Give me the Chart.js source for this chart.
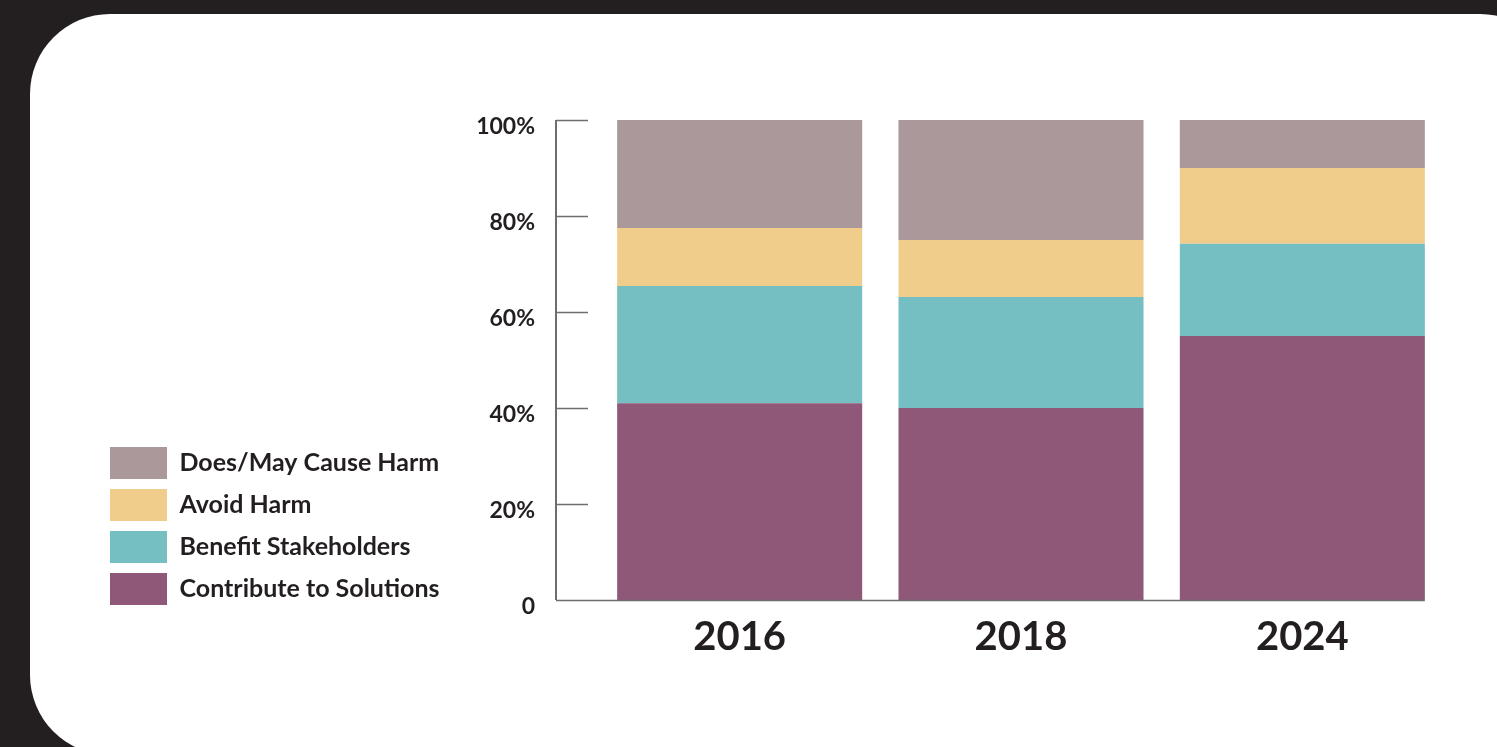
<!DOCTYPE html>
<html>
<head>
<meta charset="utf-8">
<title>Impact mix by year</title>
<script src="https://cdn.jsdelivr.net/npm/chart.js@4.4.1/dist/chart.umd.min.js"></script>
<style>
  html, body { margin: 0; padding: 0; background: #231f20; overflow: hidden; }
  #card {
    position: absolute; left: 30px; top: 14px;
    width: 1530px; height: 741px;
    background: #ffffff; border-radius: 80px;
  }
  #wrap { position: absolute; left: 0; top: 0; width: 1497px; height: 747px; }
</style>
</head>
<body>
<div id="card"></div>
<div id="wrap"><canvas id="impactChart" width="1497" height="747"></canvas></div>
<script>
// years on the x axis
const years = ['2016', '2018', '2024'];

// share of companies in each group (%)
const contributeToSolutions = [41, 40, 55];
const benefitStakeholders = [24.4, 23.1, 19.2];
const avoidHarm = [12.1, 11.9, 15.8];
const doesMayCauseHarm = [22.5, 25, 10];

const yTicks = [0, 20, 40, 60, 80, 100];

const ink = '#231f20';
const axisGrey = '#6d6e71';

Chart.defaults.font.family = 'Lato, "Open Sans", sans-serif';
Chart.defaults.color = ink;

// axis line, short ticks and baseline like the print version
const axisPlugin = {
    id: 'printAxis',
    afterLayout(chart) {
        // legend in the print sits a bit below the plot bottom
        chart.legend.top += 15;
        chart.legend.bottom += 15;
    },
    afterDatasetsDraw(chart) {
        const c = chart.ctx;
        const y = chart.scales.y;
        const axisX = chart.chartArea.left - 43;
        const lastMeta = chart.getDatasetMeta(chart.data.datasets.length - 1);
        const lastBar = lastMeta.data[lastMeta.data.length - 1];
        const rightEnd = lastBar.x + lastBar.width / 2;
        c.save();
        c.strokeStyle = axisGrey;
        c.lineWidth = 2;
        c.beginPath();
        c.moveTo(axisX, y.getPixelForValue(100));
        c.lineTo(axisX, y.getPixelForValue(0));
        c.stroke();
        c.lineWidth = 1.5;
        yTicks.forEach(function (t) {
            const py = Math.round(y.getPixelForValue(t)) + 0.5;
            c.beginPath();
            c.moveTo(axisX, py);
            c.lineTo(t === 0 ? rightEnd : axisX + 32, py);
            c.stroke();
        });
        c.restore();
    }
};

const ctx = document.getElementById('impactChart').getContext('2d');
const impactChart = new Chart(ctx, {
    type: 'bar',
    data: {
        labels: years,
        datasets: [
            { label: 'Contribute to Solutions', data: contributeToSolutions, backgroundColor: '#8f5879' },
            { label: 'Benefit Stakeholders', data: benefitStakeholders, backgroundColor: '#75bfc2' },
            { label: 'Avoid Harm', data: avoidHarm, backgroundColor: '#f0cd8a' },
            { label: 'Does/May Cause Harm', data: doesMayCauseHarm, backgroundColor: '#ab989b' }
        ]
    },
    options: {
        responsive: false,
        devicePixelRatio: 1,
        animation: false,
        layout: {
            padding: { left: 100, right: 54, top: 120, bottom: 81 }
        },
        datasets: {
            bar: { categoryPercentage: 1, barPercentage: 0.871, borderWidth: 0 }
        },
        scales: {
            x: {
                stacked: true,
                grid: { display: false },
                border: { display: false },
                ticks: {
                    padding: 5,
                    color: ink,
                    font: { size: 40, weight: 'bold' }
                }
            },
            y: {
                stacked: true,
                min: 0,
                max: 100,
                grid: { display: false, drawTicks: false },
                border: { display: false },
                afterFit: function (scale) {
                    const legendW = (scale.chart.legend && scale.chart.legend.width) || 0;
                    scale.width = 599 - 100 - legendW;
                },
                ticks: {
                    stepSize: 20,
                    padding: 64,
                    labelOffset: 7,
                    color: ink,
                    font: { size: 23, weight: 'bold' },
                    callback: function (value) {
                        return value === 0 ? '0' : value + '%';
                    }
                }
            }
        },
        plugins: {
            tooltip: { enabled: false },
            legend: {
                position: 'left',
                align: 'end',
                fullSize: false,
                reverse: true,
                maxWidth: 400,
                labels: {
                    boxWidth: 57,
                    boxHeight: 32,
                    padding: 10,
                    color: ink,
                    font: { size: 25, weight: 'bold' }
                }
            }
        }
    },
    plugins: [axisPlugin]
});
</script>
</body>
</html>
